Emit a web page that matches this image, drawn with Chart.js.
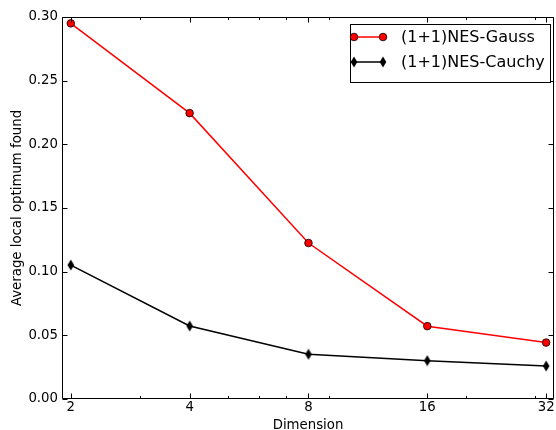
<!DOCTYPE html>
<html><head><meta charset="utf-8">
<script src="https://cdn.jsdelivr.net/npm/chart.js@4/dist/chart.umd.min.js"></script>
<style>html,body{margin:0;padding:0;background:#fff}#wrap{width:556px;height:430px}</style>
</head><body><div id="wrap"><canvas id="c" width="556" height="430"></canvas></div>
<script>
const dimensions = [2, 4, 8, 16, 32];
const gaussValues = [0.295, 0.2245, 0.1225, 0.0572, 0.0443];
const cauchyValues = [0.1052, 0.0573, 0.0351, 0.0301, 0.0259];
const xMajorTicks = [2, 4, 8, 16, 32];
const xMinorTicks = [3, 5, 6, 7, 9, 20, 30];
const yTicks = [0, 0.05, 0.10, 0.15, 0.20, 0.25, 0.30];
const seriesLabels = ['(1+1)NES-Gauss', '(1+1)NES-Cauchy'];

const FONT = 'DejaVu Sans';

function makeThinDiamond() {
  const c = document.createElement('canvas');
  c.width = 8; c.height = 12;
  const g = c.getContext('2d');
  g.fillStyle = '#000';
  g.beginPath();
  g.moveTo(4, 0.5); g.lineTo(7.3, 6); g.lineTo(4, 11.5); g.lineTo(0.7, 6); g.closePath();
  g.fill();
  return c;
}
const diamond = makeThinDiamond();

const framePlugin = {
  id: 'frame',
  afterDatasetsDraw(chart) {
    const ctx = chart.ctx, a = chart.chartArea;
    const xs = chart.scales.x, ys = chart.scales.y;
    ctx.save();
    ctx.strokeStyle = '#000';
    ctx.lineWidth = 1;
    const L = Math.round(a.left) + 0.5, R = Math.round(a.right) - 0.5;
    const T = Math.round(a.top) + 0.5, B = Math.round(a.bottom) - 0.5;
    ctx.beginPath();
    ctx.rect(L, T, R - L, B - T);
    ctx.stroke();
    ctx.beginPath();
    xMajorTicks.forEach(v => {
      const x = Math.round(xs.getPixelForValue(v)) + 0.5;
      ctx.moveTo(x, B); ctx.lineTo(x, B - 5);
      ctx.moveTo(x, T); ctx.lineTo(x, T + 5);
    });
    xMinorTicks.forEach(v => {
      const x = Math.round(xs.getPixelForValue(v)) + 0.5;
      ctx.moveTo(x, B); ctx.lineTo(x, B - 2.5);
      ctx.moveTo(x, T); ctx.lineTo(x, T + 2.5);
    });
    yTicks.forEach(v => {
      const y = Math.round(ys.getPixelForValue(v)) + 0.5;
      ctx.moveTo(L, y); ctx.lineTo(L + 5, y);
      ctx.moveTo(R, y); ctx.lineTo(R - 5, y);
    });
    ctx.stroke();
    ctx.restore();
  }
};

const legendPlugin = {
  id: 'customLegend',
  afterDraw(chart) {
    const ctx = chart.ctx;
    ctx.save();
    const bx = 350.5, by = 24.5, bw = 200, bh = 58;
    ctx.fillStyle = '#fff';
    ctx.fillRect(bx, by, bw, bh);
    ctx.strokeStyle = '#000';
    ctx.lineWidth = 1;
    ctx.strokeRect(bx, by, bw, bh);
    const rows = [37, 62];
    chart.data.datasets.forEach((ds, i) => {
      const y = rows[i];
      const x0 = 354, x1 = 383;
      ctx.strokeStyle = ds.borderColor;
      ctx.lineWidth = ds.borderWidth;
      ctx.beginPath(); ctx.moveTo(x0, y); ctx.lineTo(x1, y); ctx.stroke();
      [x0, x1].forEach(x => {
        if (i === 0) {
          ctx.beginPath();
          ctx.arc(x, y, 3.8, 0, Math.PI * 2);
          ctx.fillStyle = ds.pointBackgroundColor;
          ctx.fill();
          ctx.lineWidth = 0.8; ctx.strokeStyle = '#000';
          ctx.stroke();
        } else {
          ctx.drawImage(diamond, x - 4, y - 6);
        }
      });
      ctx.fillStyle = '#000';
      ctx.font = '16px "' + FONT + '"';
      ctx.textBaseline = 'middle';
      ctx.textAlign = 'left';
      ctx.fillText(ds.label, 401, y + 1);
    });
    ctx.restore();
  }
};

new Chart(document.getElementById('c'), {
  type: 'line',
  data: {
    datasets: [
      {
        label: seriesLabels[0],
        data: dimensions.map((d, i) => ({ x: d, y: gaussValues[i] })),
        borderColor: '#ff0000',
        borderWidth: 1.5,
        pointStyle: 'circle',
        pointRadius: 3.8,
        pointBackgroundColor: '#ff0000',
        pointBorderColor: '#000',
        pointBorderWidth: 0.8,
        tension: 0
      },
      {
        label: seriesLabels[1],
        data: dimensions.map((d, i) => ({ x: d, y: cauchyValues[i] })),
        borderColor: '#000000',
        borderWidth: 1.5,
        pointStyle: diamond,
        pointRadius: 5,
        pointBackgroundColor: '#000',
        pointBorderColor: '#000',
        tension: 0
      }
    ]
  },
  options: {
    responsive: false,
    animation: false,
    devicePixelRatio: 1,
    layout: { autoPadding: false, padding: { top: 17, right: 2, left: 0, bottom: 0 } },
    plugins: { legend: { display: false }, tooltip: { enabled: false } },
    scales: {
      x: {
        type: 'logarithmic',
        min: 1.9,
        max: 33.5,
        afterBuildTicks(scale) { scale.ticks = xMajorTicks.map(v => ({ value: v })); },
        afterFit(scale) { scale.height = 31; scale.paddingLeft = 0; scale.paddingRight = 0; },
        ticks: {
          callback: v => String(v),
          autoSkip: false, maxRotation: 0, minRotation: 0,
          color: '#000', padding: 2,
          font: { family: FONT, size: 13.3, lineHeight: 1.0 }
        },
        grid: { display: false, drawTicks: false },
        border: { display: false },
        title: {
          display: true, text: 'Dimension', color: '#000',
          font: { family: FONT, size: 13.3, lineHeight: 0.65 },
          padding: { top: 0, bottom: 0 }
        }
      },
      y: {
        type: 'linear',
        min: 0,
        max: 0.30,
        afterBuildTicks(scale) { scale.ticks = yTicks.map(v => ({ value: v })); },
        afterFit(scale) { scale.width = 62; scale.paddingTop = 0; scale.paddingBottom = 0; },
        ticks: {
          callback: v => Number(v).toFixed(2),
          color: '#000', padding: 4,
          font: { family: FONT, size: 13.3 }
        },
        grid: { display: false, drawTicks: false },
        border: { display: false },
        title: {
          display: true, text: 'Average local optimum found', color: '#000',
          font: { family: FONT, size: 13.3, lineHeight: 1.2 },
          padding: { top: 10, bottom: 0 }
        }
      }
    }
  },
  plugins: [framePlugin, legendPlugin]
});
</script>
</body></html>
